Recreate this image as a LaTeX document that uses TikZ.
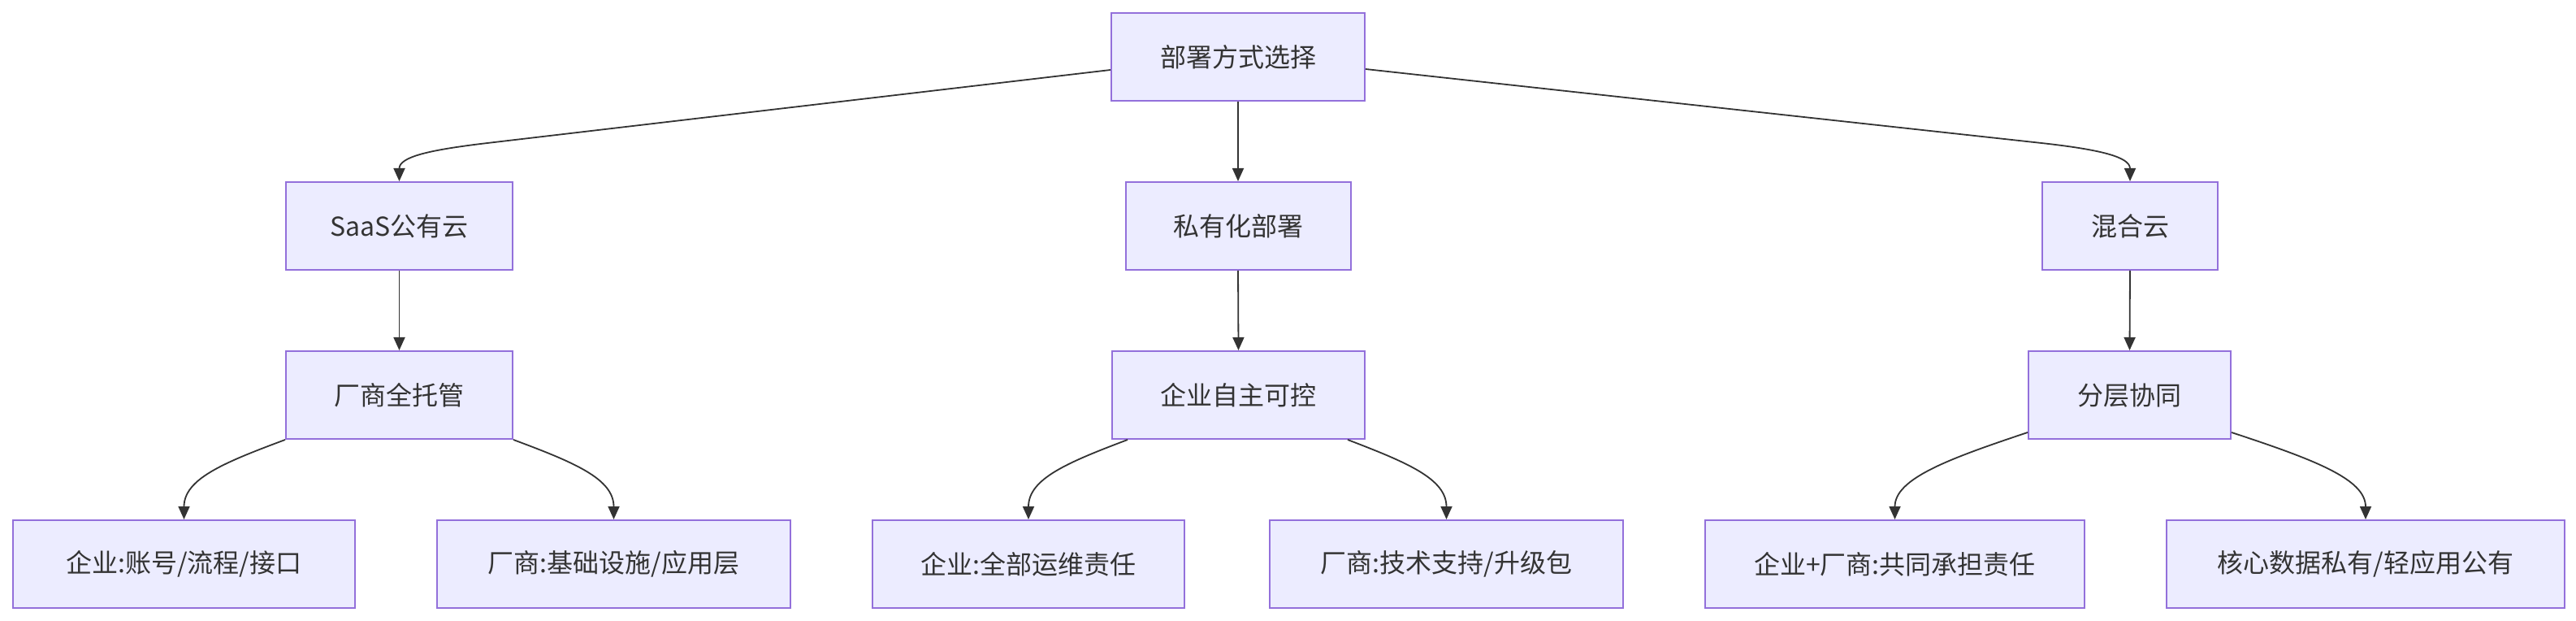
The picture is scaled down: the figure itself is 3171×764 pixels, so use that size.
\documentclass[tikz,border=0pt]{standalone}
\usepackage{fontspec}
\setmainfont{Noto Sans CJK SC}
\usetikzlibrary{arrows.meta,calc}
\definecolor{boxfill}{HTML}{ECECFF}
\definecolor{boxline}{HTML}{9370DB}
\definecolor{ink}{HTML}{333333}
\tikzset{
  box/.style={draw=boxline, fill=boxfill, line width=1pt, inner sep=0pt,
    minimum height=54pt, text=ink, font=\fontsize{16pt}{19pt}\selectfont},
  edge/.style={draw=ink, line width=0.9pt, -{Triangle[length=8pt,width=7pt]}}
}
\begin{document}
\begin{tikzpicture}[x=0.5pt,y=-0.5pt]
\useasboundingbox (0,0) rectangle (3171,764);
% level 1
\node[box, minimum width=156pt] (root) at (1524,70) {部署方式选择};
% level 2
\node[box, minimum width=139.5pt] (saas) at (491.5,278) {SaaS公有云};
\node[box, minimum width=138.5pt] (priv) at (1524,278) {私有化部署};
\node[box, minimum width=108pt] (hyb) at (2622,278) {混合云};
% level 3
\node[box, minimum width=139.5pt] (vend) at (491.5,486) {厂商全托管};
\node[box, minimum width=155.5pt] (ent) at (1524.5,486) {企业自主可控};
\node[box, minimum width=124.5pt] (lay) at (2621.5,486) {分层协同};
% level 4
\node[box, minimum width=210.5pt] (a1) at (226.5,694) {企业:账号/流程/接口};
\node[box, minimum width=217.5pt] (a2) at (755.5,694) {厂商:基础设施/应用层};
\node[box, minimum width=192pt] (b1) at (1266,694) {企业:全部运维责任};
\node[box, minimum width=217.5pt] (b2) at (1780.5,694) {厂商:技术支持/升级包};
\node[box, minimum width=233.5pt] (c1) at (2332.5,694) {企业+厂商:共同承担责任};
\node[box, minimum width=245pt] (c2) at (2912,694) {核心数据私有/轻应用公有};
% edges level 1 -> 2
\draw[edge] ($(root.west)+(0,16)$) -- ($(saas.north)+(108.5,-47)$)
  .. controls +(-72,8.5) and +(0,-30) .. (saas.north);
\draw[edge] (root.south) -- (priv.north);
\draw[edge] ($(root.east)+(0,15)$) -- ($(hyb.north)+(-109,-47)$)
  .. controls +(72,8) and +(0,-30) .. (hyb.north);
% edges level 2 -> 3
\draw[edge] (saas.south) -- (vend.north);
\draw[edge] (priv.south) -- (ent.north);
\draw[edge] (hyb.south) -- (lay.north);
% edges level 3 -> 4
\draw[edge] (vend.south west) .. controls +(-75,28) and +(0,-50) .. (a1.north);
\draw[edge] (vend.south east) .. controls +(75,28) and +(0,-50) .. (a2.north);
\draw[edge] ($(ent.south west)+(20,0)$) .. controls +(-74,28) and +(0,-50) .. (b1.north);
\draw[edge] ($(ent.south east)+(-22,0)$) .. controls +(73,28) and +(0,-50) .. (b2.north);
\draw[edge] ($(lay.south west)+(0,-9)$) .. controls +(-99,33) and +(0,-50) .. (c1.north);
\draw[edge] ($(lay.south east)+(0,-9)$) .. controls +(100,33) and +(0,-50) .. (c2.north);
\end{tikzpicture}
\end{document}
